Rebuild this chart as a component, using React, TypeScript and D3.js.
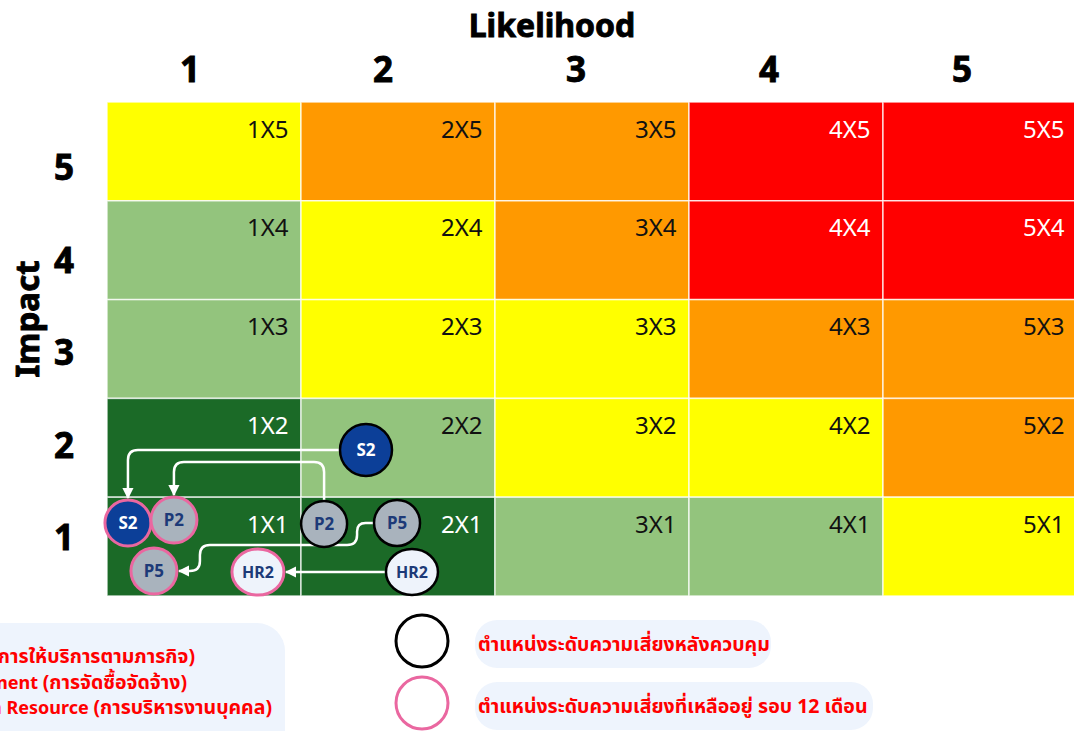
import React from 'react';
import * as d3 from 'd3';

const likelihoodLevels = [1, 2, 3, 4, 5];
const impactLevels = [5, 4, 3, 2, 1];
// zones: rows = impact 5..1, columns = likelihood 1..5
const zoneRows = [
  ['Y', 'O', 'O', 'R', 'R'],
  ['LG', 'Y', 'O', 'R', 'R'],
  ['LG', 'Y', 'Y', 'O', 'O'],
  ['DG', 'LG', 'Y', 'Y', 'O'],
  ['DG', 'DG', 'LG', 'LG', 'Y'],
];
const zoneFill: Record<string, string> = { Y: '#ffff00', O: '#ff9900', R: '#ff0000', LG: '#93c47d', DG: '#1b6a27' };
const zoneInk: Record<string, string> = { Y: '#111', O: '#111', R: '#fff', LG: '#111', DG: '#fff' };

// risk positions in (likelihood, impact) units
const risks = [
  { id: 'S2', cat: 'S', kind: 'current', l: 1.835, i: 1.978 },
  { id: 'P2', cat: 'P', kind: 'current', l: 1.619, i: 1.229 },
  { id: 'P5', cat: 'P', kind: 'current', l: 1.995, i: 1.239 },
  { id: 'HR2', cat: 'HR', kind: 'current', l: 2.072, i: 0.743 },
  { id: 'S2', cat: 'S', kind: 'residual', l: 0.608, i: 1.239 },
  { id: 'P2', cat: 'P', kind: 'residual', l: 0.845, i: 1.269 },
  { id: 'P5', cat: 'P', kind: 'residual', l: 0.742, i: 0.753 },
  { id: 'HR2', cat: 'HR', kind: 'residual', l: 1.278, i: 0.743 },
];
const moves = [
  { id: 'S2', via: [[0.608, 1.978]] },
  { id: 'P2', via: [[1.619, 1.856], [0.845, 1.856]] },
  { id: 'P5', via: [[1.789, 1.239], [1.789, 1.016], [0.979, 1.016], [0.979, 0.753]] },
  { id: 'HR2', via: [] as number[][] },
];
const categoryCodes = ['S = Service ', 'P = Procurement ', 'HR = Human Resource '];
const categoryThai = ['(การให้บริการตามภารกิจ)', '(การจัดซื้อจัดจ้าง)', '(การบริหารงานบุคคล)'];
const kindLegend = [
  { kind: 'current', label: 'ตำแหน่งระดับความเสี่ยงหลังควบคุม' },
  { kind: 'residual', label: 'ตำแหน่งระดับความเสี่ยงที่เหลืออยู่ รอบ 12 เดือน' },
];

const W = 1074, H = 731;
const gx0 = 107, gx1 = 1077, gy0 = 102, gy1 = 596;
const FONT = "'Noto Sans', 'Noto Sans Thai', sans-serif";

const catFill: Record<string, string> = { S: '#0c3f98', P: '#a9b3bd', HR: '#eef3fb' };
const catInk: Record<string, string> = { S: '#ffffff', P: '#1d3a78', HR: '#1d3a78' };
const kindStroke: Record<string, string> = { current: '#000000', residual: '#ea67a0' };

export default function App() {
  const xb = d3.scaleBand<number>().domain(likelihoodLevels).range([gx0, gx1]);
  const yb = d3.scaleBand<number>().domain(impactLevels).range([gy0, gy1]);
  const xl = d3.scaleLinear().domain([0.5, 5.5]).range([gx0, gx1]);
  const yl = d3.scaleLinear().domain([0.5, 5.5]).range([gy1, gy0]);
  const xHead = d3.scaleBand<number>().domain(likelihoodLevels).range([93.5, 1058.5]);
  const yHead = d3.scaleBand<number>().domain(impactLevels).range([121.75, 584.25]);

  const radius = (r: any) => {
    const base = r.kind === 'current' && r.cat === 'S' ? 26 : 23;
    return { rx: r.id.length > 2 ? base + 3 : base, ry: base };
  };

  const findRisk = (id: string, kind: string) => risks.find(r => r.id === id && r.kind === kind)!;

  const edgePoint = (r: any, toward: [number, number], gap: number) => {
    const cx = xl(r.l), cy = yl(r.i);
    const { rx, ry } = radius(r);
    const dx = toward[0] - cx, dy = toward[1] - cy;
    if (Math.abs(dx) > Math.abs(dy)) return [cx + Math.sign(dx) * (rx + gap), cy] as [number, number];
    return [cx, cy + Math.sign(dy) * (ry + gap)] as [number, number];
  };

  const rounded = (pts: [number, number][], rad: number) => {
    let d = `M${pts[0][0]},${pts[0][1]}`;
    for (let k = 1; k < pts.length - 1; k++) {
      const p = pts[k - 1], c = pts[k], n = pts[k + 1];
      const l1 = Math.hypot(c[0] - p[0], c[1] - p[1]);
      const l2 = Math.hypot(n[0] - c[0], n[1] - c[1]);
      const rr = Math.min(rad, l1 / 2, l2 / 2);
      const a = [c[0] - ((c[0] - p[0]) / l1) * rr, c[1] - ((c[1] - p[1]) / l1) * rr];
      const b = [c[0] + ((n[0] - c[0]) / l2) * rr, c[1] + ((n[1] - c[1]) / l2) * rr];
      d += ` L${a[0]},${a[1]} Q${c[0]},${c[1]} ${b[0]},${b[1]}`;
    }
    const last = pts[pts.length - 1];
    d += ` L${last[0]},${last[1]}`;
    return d;
  };

  const arrowPaths = moves.map(m => {
    const cur = findRisk(m.id, 'current');
    const res = findRisk(m.id, 'residual');
    const viaPx = m.via.map(v => [xl(v[0]), yl(v[1])] as [number, number]);
    const firstTarget = viaPx.length ? viaPx[0] : ([xl(res.l), yl(res.i)] as [number, number]);
    const lastFrom = viaPx.length ? viaPx[viaPx.length - 1] : ([xl(cur.l), yl(cur.i)] as [number, number]);
    const start = edgePoint(cur, firstTarget, 0);
    const end = edgePoint(res, lastFrom, 2);
    return { id: m.id, d: rounded([start, ...viaPx, end], 10) };
  });

  const heavy = { stroke: '#000', strokeWidth: 0.9 } as const;

  return (
    <svg width={W} height={H} style={{ position: 'absolute', left: 0, top: 0, background: '#fff' }} fontFamily={FONT}>
      <defs>
        <marker id="ah" viewBox="0 0 10 10" refX="9" refY="5" markerWidth="4.6" markerHeight="4.6" orient="auto">
          <path d="M0,0 L10,5 L0,10 z" fill="#fff" />
        </marker>
      </defs>

      {/* cells */}
      {impactLevels.map((imp, ri) =>
        likelihoodLevels.map((lk, ci) => {
          const z = zoneRows[ri][ci];
          return (
            <g key={`${imp}-${lk}`}>
              <rect x={xb(lk)} y={yb(imp)} width={xb.bandwidth()} height={yb.bandwidth()} fill={zoneFill[z]}
                stroke="#ffffff" strokeOpacity={0.75} strokeWidth={1.5} />
              <text x={xb(lk)! + xb.bandwidth() - 12.5} y={yb(imp)! + 35.5} textAnchor="end" fontSize={24}
                fill={zoneInk[z]}>{`${lk}X${imp}`}</text>
            </g>
          );
        })
      )}

      {/* headers */}
      <text x={552} y={37} textAnchor="middle" fontSize={32} fontWeight={700} fill="#000" {...heavy}>Likelihood</text>
      {likelihoodLevels.map(lk => (
        <text key={lk} x={xHead(lk)! + xHead.bandwidth() / 2} y={82} textAnchor="middle" fontSize={35} fontWeight={700} fill="#000" {...heavy}>{lk}</text>
      ))}
      <text transform="translate(39,319) rotate(-90)" textAnchor="middle" fontSize={33} fontWeight={700} fill="#000" {...heavy}>Impact</text>
      {impactLevels.map(imp => (
        <text key={imp} x={64} y={yHead(imp)! + yHead.bandwidth() / 2 + 12} textAnchor="middle" fontSize={35} fontWeight={700} fill="#000" {...heavy}>{imp}</text>
      ))}

      {/* arrows */}
      {arrowPaths.map(a => (
        <path key={a.id} d={a.d} fill="none" stroke="#fff" strokeWidth={2.5} markerEnd="url(#ah)" />
      ))}

      {/* risk markers */}
      {risks.map(r => {
        const { rx, ry } = radius(r);
        const fs = r.id.length > 2 ? 16 : 17;
        return (
          <g key={`${r.id}-${r.kind}`} transform={`translate(${xl(r.l)},${yl(r.i)})`}>
            <ellipse rx={rx} ry={ry} fill={catFill[r.cat]} stroke={kindStroke[r.kind]} strokeWidth={r.kind === 'current' ? 2.5 : 3} />
            <text y={6} textAnchor="middle" fontSize={fs} fontWeight={700} fill={catInk[r.cat]}>{r.id}</text>
          </g>
        );
      })}

      {/* category legend */}
      <rect x={-60} y={623} width={345} height={140} rx={28} fill="#eef4fd" />
      {categoryCodes.map((t, k) => (
        <text key={k} x={[195, 187, 272][k]} y={663 + k * 25.5} textAnchor="end" fontWeight={700} fill="#ff0000">
          <tspan fontSize={18}>{t}</tspan>
          <tspan fontSize={19.5}>{categoryThai[k]}</tspan>
        </text>
      ))}

      {/* marker legend */}
      {kindLegend.map((k, idx) => {
        const cy = 641 + idx * 62;
        const bw = idx === 0 ? 296 : 398;
        return (
          <g key={k.kind}>
            <circle cx={422} cy={cy} r={26} fill="#fff" stroke={kindStroke[k.kind]} strokeWidth={3} />
            <rect x={475} y={cy - 21} width={bw} height={48} rx={22} fill="#eef4fd" />
            <text x={478} y={cy + 10} fontSize={19.5} fontWeight={700} fill="#ff0000">{k.label}</text>
          </g>
        );
      })}
    </svg>
  );
}
